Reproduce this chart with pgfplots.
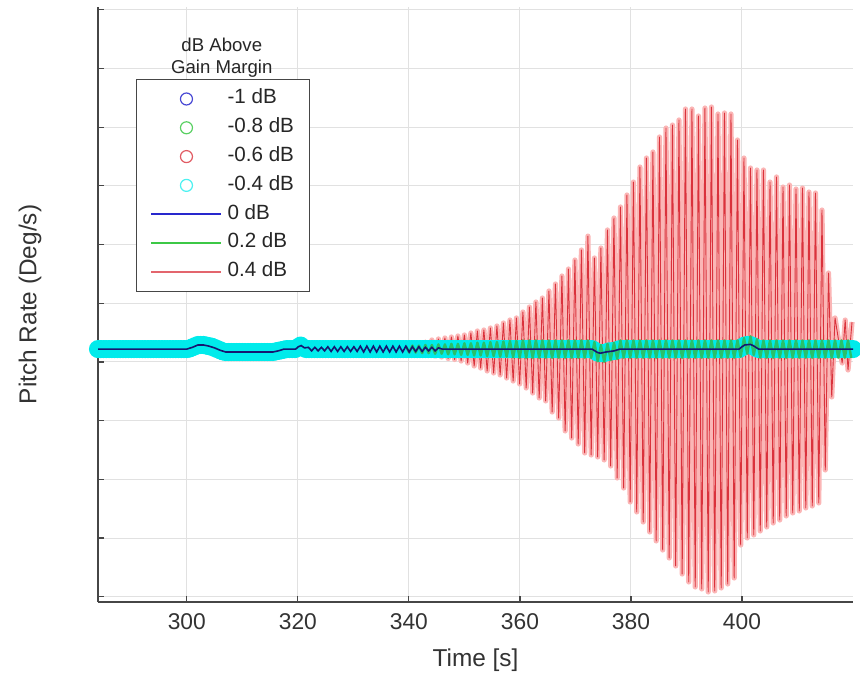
\documentclass[border=0pt]{standalone}
\usepackage{fontspec}
\setmainfont{Liberation Sans}
\usepackage{pgfplots}
\usepackage{pgfplotstable}
\pgfplotsset{compat=1.18}

\definecolor{mblue}{RGB}{40,40,205}
\definecolor{mgreen}{RGB}{60,200,70}
\definecolor{mred}{RGB}{218,50,60}
\definecolor{mpink}{RGB}{251,182,182}
\definecolor{mcyan}{RGB}{0,235,235}
\definecolor{axgray}{RGB}{70,70,70}
\definecolor{gridgray}{RGB}{225,225,225}

\pgfplotsset{
  linelegend/.style={legend image code/.code={\draw[##1] (0pt,0pt) -- (35pt,0pt);}},
  marklegend/.style={legend image code/.code={\draw[mark repeat=2,mark phase=2,##1] plot coordinates {(0pt,0pt) (17.5pt,0pt) (35pt,0pt)};}},
}

% baseline shared by the marker series (time, pitch rate)
\pgfplotstableread[row sep=\\]{
t y\\
284 0.22\\284.5 0.22\\285 0.22\\285.5 0.22\\286 0.22\\286.5 0.22\\287 0.22\\287.5 0.22\\288 0.22\\288.5 0.22\\
289 0.22\\289.5 0.22\\290 0.22\\290.5 0.22\\291 0.22\\291.5 0.22\\292 0.22\\292.5 0.22\\293 0.22\\293.5 0.22\\
294 0.22\\294.5 0.22\\295 0.22\\295.5 0.22\\296 0.22\\296.5 0.22\\297 0.22\\297.5 0.22\\298 0.22\\298.5 0.22\\
299 0.22\\299.5 0.22\\300 0.22\\300.5 0.23\\301 0.25\\301.5 0.27\\302 0.29\\302.5 0.29\\303 0.29\\303.5 0.28\\
304 0.27\\304.5 0.26\\305 0.24\\305.5 0.22\\306 0.20\\306.5 0.18\\307 0.17\\307.5 0.17\\308 0.17\\308.5 0.17\\
309 0.17\\309.5 0.17\\310 0.17\\310.5 0.17\\311 0.17\\311.5 0.17\\312 0.17\\312.5 0.17\\313 0.17\\313.5 0.17\\
314 0.17\\314.5 0.17\\315 0.17\\315.5 0.17\\316 0.18\\316.5 0.19\\317 0.20\\317.5 0.21\\318 0.22\\318.5 0.22\\
319 0.22\\319.5 0.22\\320 0.25\\320.5 0.28\\321 0.24\\321.5 0.22\\322 0.22\\322.5 0.22\\323 0.22\\323.5 0.22\\
324 0.22\\324.5 0.22\\325 0.22\\325.5 0.22\\326 0.22\\326.5 0.22\\327 0.22\\327.5 0.22\\328 0.22\\328.5 0.22\\
329 0.22\\329.5 0.22\\330 0.22\\330.5 0.22\\331 0.22\\331.5 0.22\\332 0.22\\332.5 0.22\\333 0.22\\333.5 0.22\\
334 0.22\\334.5 0.22\\335 0.22\\335.5 0.22\\336 0.22\\336.5 0.22\\337 0.22\\337.5 0.22\\338 0.22\\338.5 0.22\\
339 0.22\\339.5 0.22\\340 0.22\\340.5 0.22\\341 0.22\\341.5 0.22\\342 0.22\\342.5 0.22\\343 0.22\\343.5 0.22\\
344 0.22\\344.5 0.22\\345 0.22\\345.5 0.22\\346 0.22\\346.5 0.22\\347 0.22\\347.5 0.22\\348 0.22\\348.5 0.22\\
349 0.22\\349.5 0.22\\350 0.22\\350.5 0.22\\351 0.22\\351.5 0.22\\352 0.22\\352.5 0.22\\353 0.22\\353.5 0.22\\
354 0.22\\354.5 0.22\\355 0.22\\355.5 0.22\\356 0.22\\356.5 0.22\\357 0.22\\357.5 0.22\\358 0.22\\358.5 0.22\\
359 0.22\\359.5 0.22\\360 0.22\\360.5 0.22\\361 0.22\\361.5 0.22\\362 0.22\\362.5 0.22\\363 0.22\\363.5 0.22\\
364 0.22\\364.5 0.22\\365 0.22\\365.5 0.22\\366 0.22\\366.5 0.22\\367 0.22\\367.5 0.22\\368 0.22\\368.5 0.22\\
369 0.22\\369.5 0.22\\370 0.22\\370.5 0.22\\371 0.22\\371.5 0.22\\372 0.22\\372.5 0.22\\373 0.22\\373.5 0.19\\
374 0.16\\374.5 0.15\\375 0.15\\375.5 0.16\\376 0.18\\376.5 0.18\\377 0.19\\377.5 0.20\\378 0.22\\378.5 0.22\\
379 0.22\\379.5 0.22\\380 0.22\\380.5 0.22\\381 0.22\\381.5 0.22\\382 0.22\\382.5 0.22\\383 0.22\\383.5 0.22\\
384 0.22\\384.5 0.22\\385 0.22\\385.5 0.22\\386 0.22\\386.5 0.22\\387 0.22\\387.5 0.22\\388 0.22\\388.5 0.22\\
389 0.22\\389.5 0.22\\390 0.22\\390.5 0.22\\391 0.22\\391.5 0.22\\392 0.22\\392.5 0.22\\393 0.22\\393.5 0.22\\
394 0.22\\394.5 0.22\\395 0.22\\395.5 0.22\\396 0.22\\396.5 0.22\\397 0.22\\397.5 0.22\\398 0.22\\398.5 0.22\\
399 0.22\\399.5 0.22\\400 0.25\\400.5 0.28\\401 0.29\\401.5 0.29\\402 0.27\\402.5 0.24\\403 0.22\\403.5 0.22\\
404 0.22\\404.5 0.22\\405 0.22\\405.5 0.22\\406 0.22\\406.5 0.22\\407 0.22\\407.5 0.22\\408 0.22\\408.5 0.22\\
409 0.22\\409.5 0.22\\410 0.22\\410.5 0.22\\411 0.22\\411.5 0.22\\412 0.22\\412.5 0.22\\413 0.22\\413.5 0.22\\
414 0.22\\414.5 0.22\\415 0.22\\415.5 0.22\\416 0.22\\416.5 0.22\\417 0.22\\417.5 0.22\\418 0.22\\418.5 0.22\\
419 0.22\\419.5 0.22\\420 0.22\\
}\basetab

% 0.4 dB series: successive peaks and troughs
\pgfplotstableread[row sep=\\]{
t y\\
334.77 0.238\\335.36 0.204\\335.95 0.238\\336.53 0.204\\337.12 0.247\\337.70 0.196\\338.29 0.255\\338.87 0.187\\
339.46 0.272\\340.05 0.170\\340.63 0.289\\341.22 0.153\\341.80 0.306\\342.39 0.136\\342.97 0.340\\343.56 0.119\\
344.14 0.375\\344.73 0.102\\345.32 0.392\\345.90 0.085\\346.49 0.409\\347.07 0.060\\347.66 0.426\\348.24 0.043\\
348.83 0.443\\349.41 0.017\\350.00 0.460\\350.59 -0.017\\351.17 0.494\\351.76 -0.068\\352.34 0.528\\352.93 -0.102\\
353.51 0.545\\354.10 -0.153\\354.68 0.579\\355.27 -0.187\\355.86 0.613\\356.44 -0.221\\357.03 0.664\\357.61 -0.273\\
358.20 0.715\\358.78 -0.324\\359.37 0.750\\359.95 -0.375\\360.54 0.852\\361.13 -0.443\\361.71 0.937\\362.30 -0.528\\
362.88 1.022\\363.47 -0.613\\364.05 1.090\\364.64 -0.664\\365.23 1.210\\365.81 -0.852\\366.40 1.329\\366.98 -0.954\\
367.57 1.465\\368.15 -1.175\\368.74 1.584\\369.32 -1.295\\369.91 1.738\\370.50 -1.397\\371.08 1.908\\371.67 -1.550\\
372.25 2.145\\372.84 -1.584\\373.42 1.772\\374.01 -1.618\\374.59 1.942\\375.18 -1.669\\375.77 2.249\\376.35 -1.772\\
376.94 2.453\\377.52 -1.976\\378.11 2.641\\378.69 -2.147\\379.28 2.845\\379.86 -2.385\\380.45 3.066\\381.04 -2.555\\
381.62 3.322\\382.21 -2.726\\382.79 3.475\\383.38 -2.896\\383.96 3.578\\384.55 -3.049\\385.14 3.833\\385.72 -3.203\\
386.31 3.986\\386.89 -3.339\\387.48 4.037\\388.06 -3.475\\388.65 4.123\\389.23 -3.612\\389.82 4.310\\390.41 -3.748\\
390.99 4.310\\391.58 -3.833\\392.16 4.191\\392.75 -3.867\\393.33 4.327\\393.92 -3.918\\394.50 4.344\\395.09 -3.901\\
395.68 4.225\\396.26 -3.850\\396.85 4.242\\397.43 -3.782\\398.02 4.225\\398.60 -3.680\\399.19 3.782\\399.77 -3.118\\
400.36 3.475\\400.95 -2.998\\401.53 3.305\\402.12 -2.947\\402.70 3.271\\403.29 -2.879\\403.87 3.271\\404.46 -2.811\\
405.05 3.066\\405.63 -2.743\\406.22 3.152\\406.80 -2.692\\407.39 2.981\\407.97 -2.623\\408.56 3.015\\409.14 -2.572\\
409.73 2.947\\410.32 -2.538\\410.90 2.964\\411.49 -2.487\\412.07 2.896\\412.66 -2.453\\413.24 2.879\\413.83 -2.402\\
414.41 2.589\\415.00 -1.840\\415.59 1.516\\416.17 -0.596\\416.76 0.750\\418.05 -0.017\\418.59 0.715\\419.10 -0.136\\
419.82 0.681\\
}\redtab

% 0.2 dB series
\pgfplotstableread[row sep=\\]{
t y\\
339.46 0.27\\340.05 0.16\\340.63 0.28\\341.22 0.16\\341.80 0.28\\342.39 0.15\\342.97 0.29\\343.56 0.15\\
344.14 0.29\\344.73 0.14\\345.32 0.30\\345.90 0.14\\346.49 0.30\\347.07 0.13\\347.66 0.31\\348.24 0.13\\
348.83 0.31\\349.41 0.12\\350.00 0.32\\350.59 0.12\\351.17 0.32\\351.76 0.11\\352.34 0.33\\352.93 0.11\\
353.51 0.33\\354.10 0.10\\354.68 0.34\\355.27 0.10\\355.86 0.34\\356.44 0.09\\357.03 0.35\\357.61 0.09\\
358.20 0.36\\358.78 0.08\\359.37 0.36\\359.95 0.07\\360.54 0.37\\361.13 0.07\\361.71 0.37\\362.30 0.07\\
362.88 0.37\\363.47 0.07\\364.05 0.37\\364.64 0.07\\365.23 0.37\\365.81 0.07\\366.40 0.37\\366.98 0.07\\
367.57 0.37\\368.15 0.07\\368.74 0.37\\369.32 0.07\\369.91 0.37\\370.50 0.07\\371.08 0.37\\371.67 0.07\\
372.25 0.37\\372.84 0.07\\373.42 0.34\\374.01 0.01\\374.59 0.29\\375.18 0.00\\375.77 0.31\\376.35 0.03\\
376.94 0.33\\377.52 0.05\\378.11 0.37\\378.69 0.07\\379.28 0.37\\379.86 0.07\\380.45 0.37\\381.04 0.07\\
381.62 0.37\\382.21 0.07\\382.79 0.37\\383.38 0.07\\383.96 0.37\\384.55 0.07\\385.14 0.37\\385.72 0.07\\
386.31 0.37\\386.89 0.07\\387.48 0.37\\388.06 0.07\\388.65 0.37\\389.23 0.07\\389.82 0.37\\390.41 0.07\\
390.99 0.37\\391.58 0.07\\392.16 0.37\\392.75 0.07\\393.33 0.37\\393.92 0.07\\394.50 0.37\\395.09 0.07\\
395.68 0.37\\396.26 0.07\\396.85 0.37\\397.43 0.07\\398.02 0.37\\398.60 0.07\\399.19 0.37\\399.77 0.09\\
400.36 0.41\\400.95 0.14\\401.53 0.44\\402.12 0.12\\402.70 0.39\\403.29 0.07\\403.87 0.37\\404.46 0.07\\
405.05 0.37\\405.63 0.07\\406.22 0.37\\406.80 0.07\\407.39 0.37\\407.97 0.07\\408.56 0.37\\409.14 0.07\\
409.73 0.37\\410.32 0.07\\410.90 0.37\\411.49 0.07\\412.07 0.37\\412.66 0.07\\413.24 0.37\\413.83 0.07\\
414.41 0.37\\415.00 0.07\\415.59 0.37\\416.17 0.07\\416.76 0.37\\417.35 0.07\\417.93 0.37\\418.52 0.07\\
419.10 0.37\\419.69 0.07\\
}\greentab

% 0 dB series
\pgfplotstableread[row sep=\\]{
t y\\
284 0.22\\300 0.22\\301 0.25\\302 0.29\\303 0.29\\304 0.27\\305 0.24\\306 0.20\\307 0.17\\315.5 0.17\\
316.5 0.19\\317.5 0.22\\319.6 0.22\\320.1 0.26\\320.6 0.28\\321.2 0.24\\
321.89 0.25\\322.48 0.19\\323.06 0.25\\323.65 0.19\\324.23 0.25\\324.82 0.19\\325.40 0.26\\325.99 0.18\\
326.57 0.26\\327.16 0.18\\327.74 0.26\\328.33 0.18\\328.92 0.26\\329.50 0.18\\330.09 0.26\\330.68 0.18\\
331.26 0.27\\331.85 0.17\\332.43 0.27\\333.02 0.17\\333.60 0.27\\334.19 0.17\\334.77 0.27\\335.36 0.17\\
335.95 0.27\\336.53 0.17\\337.12 0.27\\337.70 0.17\\338.29 0.27\\338.87 0.17\\339.46 0.27\\340.05 0.17\\
340.63 0.26\\341.22 0.18\\341.80 0.26\\342.39 0.18\\342.97 0.25\\343.56 0.19\\344.14 0.25\\344.73 0.19\\
345.32 0.24\\346 0.22\\373 0.22\\373.5 0.19\\374 0.16\\374.5 0.15\\375.5 0.17\\377 0.19\\378 0.22\\
399.5 0.22\\400 0.26\\400.5 0.29\\401.5 0.30\\402 0.28\\402.5 0.25\\403 0.22\\420 0.22\\
}\bluetab

\begin{document}
\begin{tikzpicture}
\useasboundingbox (-49pt,-37pt) rectangle (381pt,301pt);
\begin{axis}[
  at={(0pt,0pt)}, anchor=south west,
  scale only axis, width=377.5pt, height=297.5pt,
  xmin=284, xmax=420, ymin=-4.089, ymax=6.048,
  xtick={300,320,...,400}, ytick={-4,-3,...,6}, yticklabels={},
  axis x line=bottom, axis y line=left,
  axis line style={-, axgray, line width=0.8pt},
  tick align=inside, major tick length=3pt,
  tick style={axgray, line width=0.6pt},
  grid=major, grid style={gridgray, line width=0.5pt},
  /pgf/number format/assume math mode=true,
  tick label style={font=\fontsize{11.4}{13}\selectfont, text=black!80},
  xticklabel style={anchor=center, yshift=-10pt},
  every axis x label/.style={at={(rel axis cs:0.5,-0.0975)}, anchor=center, font=\fontsize{12.2}{14}\selectfont, text=black!80},
  every axis y label/.style={at={(rel axis cs:-0.09,0.5)}, rotate=90, anchor=center, font=\fontsize{12.2}{14}\selectfont, text=black!80},
  xlabel={Time [s]}, ylabel={Pitch Rate (Deg/s)},
  clip=false, clip marker paths=true,
  legend cell align=left,
  legend style={at={(rel axis cs:0.0503,0.879)}, anchor=north west,
    draw=axgray, line width=0.6pt, fill=white,
    font=\fontsize{10.3}{12}\selectfont,
    inner xsep=7pt, inner ysep=2.5pt, row sep=0pt, column sep=2pt,
    nodes={inner xsep=0.6pt, inner ysep=1.2pt, text height=8.5pt, text depth=3.5pt, text=black!85}},
]
\addlegendimage{marklegend, only marks, mark=o, mark size=3pt, mark options={line width=0.6pt}, color=mblue!85}
\addlegendentry{-1 dB}
\addlegendimage{marklegend, only marks, mark=o, mark size=3pt, mark options={line width=0.6pt}, color=mgreen!85}
\addlegendentry{-0.8 dB}
\addlegendimage{marklegend, only marks, mark=o, mark size=3pt, mark options={line width=0.6pt}, color=mred!80}
\addlegendentry{-0.6 dB}
\addlegendimage{marklegend, only marks, mark=o, mark size=3pt, mark options={line width=0.6pt}, color=mcyan!70}
\addlegendentry{-0.4 dB}
\addlegendimage{linelegend, mblue, line width=0.7pt}
\addlegendentry{0 dB}
\addlegendimage{linelegend, mgreen, line width=0.7pt}
\addlegendentry{0.2 dB}
\addlegendimage{linelegend, mred!75, line width=0.9pt}
\addlegendentry{0.4 dB}

% 0.4 dB
\addplot[mpink, line width=2.6pt, line join=round, forget plot] table[x=t,y=y] {\redtab};
\addplot[mred, line width=0.45pt, line join=round, forget plot] table[x=t,y=y] {\redtab};
% -1, -0.8, -0.6 dB (hidden under -0.4 dB)
\addplot[only marks, mark=o, mark size=3pt, mblue, each nth point=8, filter discard warning=false, forget plot] table[x=t,y=y] {\basetab};
\addplot[only marks, mark=o, mark size=3pt, mgreen, each nth point=8, filter discard warning=false, forget plot] table[x=t,y=y] {\basetab};
\addplot[only marks, mark=o, mark size=3pt, mred, each nth point=8, filter discard warning=false, forget plot] table[x=t,y=y] {\basetab};
% -0.4 dB
\addplot[only marks, mark=o, mark size=3.5pt, mark options={line width=2pt}, mcyan, forget plot] table[x=t,y=y] {\basetab};
% 0.2 dB
\addplot[mgreen!90!black, opacity=0.75, line width=1.2pt, line join=round, forget plot] table[x=t,y=y] {\greentab};
% 0 dB
\addplot[mblue!55!black, line width=0.8pt, forget plot] table[x=t,y=y] {\bluetab};

\node[align=center, font=\fontsize{9.3}{11}\selectfont, text=black!85] at (rel axis cs:0.164,0.914) {dB Above\\Gain Margin};
\end{axis}
\end{tikzpicture}
\end{document}
